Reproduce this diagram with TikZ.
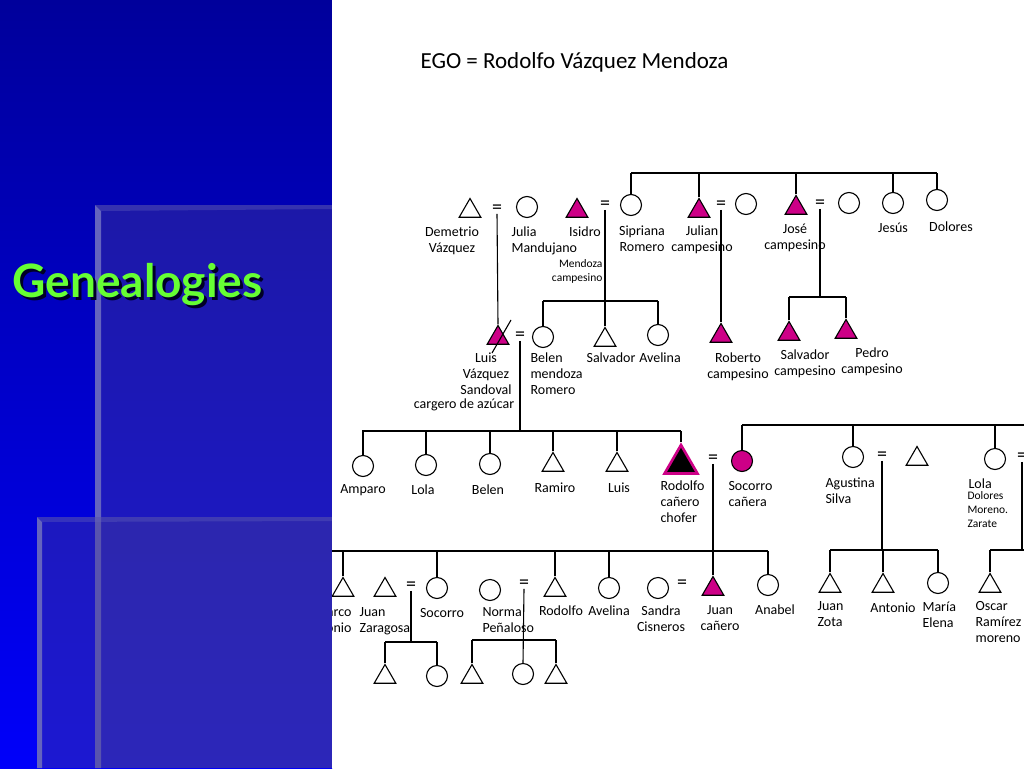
\documentclass[tikz,border=0pt]{standalone}
\usepackage{fontspec}
\setmainfont{Carlito}
\newfontfamily\ttlfont{Lato}
\usetikzlibrary{shapes.geometric,positioning}
\definecolor{mgn}{RGB}{205,0,135}
\definecolor{ttlgreen}{RGB}{102,255,51}
\definecolor{pnltop}{RGB}{0,0,155}
\definecolor{pnlbot}{RGB}{0,0,250}
\definecolor{pnlover}{RGB}{70,60,150}
\definecolor{pnledge}{RGB}{100,100,190}
\newcommand{\shadowtext}[1]{\makebox[0pt][l]{\hspace{3pt}\raisebox{-3pt}{\color{black!85!blue}#1}}#1}
\tikzset{
  male/.style={draw, regular polygon, regular polygon sides=3, minimum size=25pt, inner sep=0pt, line width=1.1pt},
  female/.style={draw, circle, minimum size=21pt, inner sep=0pt, line width=1.1pt},
  kin/.style={fill=mgn},
  egosym/.style={male, minimum size=38pt, fill=black, draw=mgn, line width=2.6pt},
  eq/.style={font=\fontsize{20}{20}\selectfont, inner sep=0pt},
  lbl/.style={font=\fontsize{14}{16}\selectfont, inner sep=0pt, align=center},
  sml/.style={font=\fontsize{11.5}{14}\selectfont, inner sep=0pt},
  ttl/.style={font=\ttlfont\bfseries\fontsize{46}{46}\selectfont, inner sep=0pt, anchor=base west, text=ttlgreen},
  every edge/.style={draw, line width=1.1pt},
}
\begin{document}
\begin{tikzpicture}[x=1pt,y=-1pt,line width=1.1pt]
\useasboundingbox (0,0) rectangle (1024,768);
% left panel
\shade[top color=pnltop, bottom color=pnlbot] (0,0) rectangle (332,768);
\fill[pnlover, opacity=0.4] (95,205) rectangle (332,768);
\fill[pnledge] (95,205) -- (101,211) -- (101,768) -- (95,768) -- cycle;
\fill[pnledge, opacity=0.35] (95,205) -- (332,205) -- (332,209) -- (101,211) -- cycle;
\fill[pnlover, opacity=0.4] (37,517) rectangle (332,768);
\fill[pnledge] (37,517) -- (42,522) -- (42,768) -- (37,768) -- cycle;
\fill[pnledge, opacity=0.35] (37,517) -- (332,517) -- (332,521) -- (42,522) -- cycle;
\node[ttl] (ttl) at (12,297) {\shadowtext{Genealogies}};
% chart
\fill[white] (332,0) rectangle (1024,768);
\begin{scope}
\clip (332,0) rectangle (1024,768);
\node[font=\fontsize{23}{23}\selectfont, anchor=west, inner sep=0pt] (ego) at (420,62) {EGO = Rodolfo Vázquez Mendoza};

% generation 1
\node[male] (1a) at (470,211) {};
\node[eq] (q1a) at (497,209) {=};
\node[female] (1b) at (527,207) {};
\node[male,kin] (1c) at (577,211) {};
\node[eq] (q1b) at (605,205) {=};
\node[female] (1d) at (631,205) {};
\node[male,kin] (1e) at (699,211) {};
\node[eq] (q1c) at (721,205) {=};
\node[female] (1f) at (746,204) {};
\node[male,kin] (1g) at (796,208) {};
\node[eq] (q1d) at (820,204) {=};
\node[female] (1h) at (849,203) {};
\node[female] (1i) at (893,203) {};
\node[female] (1j) at (937,200) {};
\node[lbl] (l1a) at (452,241) {Demetrio\\Vázquez};
\node[lbl, align=left, anchor=west] (l1b) at (511,241) {Julia\\Mandujano};
\node[lbl] (l1c) at (585,232) {Isidro};
\node[sml, align=right, anchor=east] (l1c2) at (603,271) {Mendoza\\campesino};
\node[lbl] (l1d) at (642,239) {Sipriana\\Romero};
\node[lbl] (l1e) at (702,240) {Julian\\campesino};
\node[lbl] (l1g) at (795,238) {José\\campesino};
\node[lbl] (l1i) at (893,228) {Jesús};
\node[lbl] (l1j) at (951,227) {Dolores};
\coordinate (b1) at (631,173);
\coordinate (b1e) at (937,173);
\draw (b1) -- (b1e);
\path (1d.north) edge (1d |- b1)
      (1e.north) edge (1e |- b1)
      (1g.north) edge (1g |- b1)
      (1i.north) edge (1i |- b1)
      (1j.north) edge (1j |- b1);

% generation 2
\node[male,kin] (2a) at (498,338) {};
\draw ([shift={(13,-18)}]2a.center) -- ([shift={(-6,15)}]2a.center);
\node[eq] (q2a) at (520,336) {=};
\node[female] (2b) at (543,337) {};
\node[male] (2c) at (605,340) {};
\node[female] (2d) at (658,335) {};
\node[male,kin] (2e) at (721,336) {};
\node[male,kin] (2f) at (789,334) {};
\node[male,kin] (2g) at (846,332) {};
\node[lbl] (l2a) at (486,374) {Luis\\Vázquez\\Sandoval};
\node[lbl] (l2a2) at (464,405) {cargero de azúcar};
\node[lbl, align=left, anchor=west] (l2b) at (530,374) {Belen\\mendoza\\Romero};
\node[lbl] (l2c) at (611,358) {Salvador};
\node[lbl] (l2d) at (660,358) {Avelina};
\node[lbl] (l2e) at (738,367) {Roberto\\campesino};
\node[lbl] (l2f) at (805,364) {Salvador\\campesino};
\node[lbl] (l2g) at (872,362) {Pedro\\campesino};
\coordinate (b2) at (543,301);
\coordinate (b2e) at (658,301);
\coordinate (b3) at (789,297);
\coordinate (b3e) at (846,297);
\draw (b2) -- (b2e);
\draw (b3) -- (b3e);
\path (q1a.south) edge (2a.north)
      (q1b.south) edge (q1b |- b2)
      (q1c.south) edge (2e.north)
      (q1d.south) edge (q1d |- b3)
      (2b.north) edge (2b |- b2)
      (2c.north) edge (2c |- b2)
      (2d.north) edge (2d |- b2)
      (2f.north) edge (2f |- b3)
      (2g.north) edge (2g |- b3);

% generation 3
\node[female] (3a) at (363,466) {};
\node[female] (3b) at (426,465) {};
\node[female] (3c) at (490,464) {};
\node[male] (3d) at (553,465) {};
\node[male] (3e) at (617,465) {};
\node[egosym] (3f) at (681,464) {};
\node[eq] (q3a) at (713,459) {=};
\node[female,kin] (3g) at (742,461) {};
\node[female] (3h) at (853,457) {};
\node[eq] (q3b) at (882,456) {=};
\node[male] (3i) at (917,459) {};
\node[female] (3j) at (995,459) {};
\node[eq] (q3c) at (1022,457) {=};
\node[lbl] (l3a) at (363,490) {Amparo};
\node[lbl] (l3b) at (423,490) {Lola};
\node[lbl] (l3c) at (488,490) {Belen};
\node[lbl] (l3d) at (555,488) {Ramiro};
\node[lbl] (l3e) at (619,488) {Luis};
\node[lbl, align=left, anchor=west] (l3f) at (660,502) {Rodolfo\\cañero\\chofer};
\node[lbl, align=left, anchor=west] (l3g) at (728,494) {Socorro\\cañera};
\node[lbl, align=left, anchor=west] (l3h) at (825,491) {Agustina\\Silva};
\node[lbl, anchor=west] (l3j) at (968,484) {Lola};
\node[sml, align=left, anchor=north west] (l3j2) at (967,491) {Dolores\\Moreno.\\Zarate};
\coordinate (b4) at (362,431);
\coordinate (b4e) at (681,431);
\coordinate (b6) at (742,425);
\coordinate (b6e) at (1030,425);
\draw (b4) -- (b4e);
\draw (b6) -- (b6e);
\path (q2a.south) edge (q2a |- b4)
      (3a.north) edge (3a |- b4)
      (3b.north) edge (3b |- b4)
      (3c.north) edge (3c |- b4)
      (3d.north) edge (3d |- b4)
      (3e.north) edge (3e |- b4)
      (3f.north) edge (3f |- b4)
      (3g.north) edge (3g |- b6)
      (3h.north) edge (3h |- b6)
      (3j.north) edge (3j |- b6);

% generation 4
\node[male] (4a) at (343,590) {};
\node[male] (4b) at (385,590) {};
\node[eq] (q4a) at (411,586) {=};
\node[female] (4c) at (437,588) {};
\node[female] (4d) at (490,590) {};
\node[eq] (q4b) at (524,584) {=};
\node[male] (4e) at (555,590) {};
\node[female] (4f) at (609,588) {};
\node[female] (4g) at (658,588) {};
\node[eq] (q4c) at (682,584) {=};
\node[male,kin] (4h) at (713,589) {};
\node[female] (4i) at (768,585) {};
\node[male] (4j) at (830,586) {};
\node[male] (4k) at (883,586) {};
\node[female] (4l) at (938,583) {};
\node[male] (4m) at (990,586) {};
\node[lbl, align=right, anchor=east] (l4a) at (352,620) {Marco\\Antonio};
\node[lbl, align=left, anchor=west] (l4b) at (359,621) {Juan\\Zaragosa};
\node[lbl] (l4c) at (442,613) {Socorro};
\node[lbl, align=left, anchor=west] (l4d) at (482,620) {Norma\\Peñaloso};
\node[lbl] (l4e) at (561,611) {Rodolfo};
\node[lbl] (l4f) at (609,611) {Avelina};
\node[lbl] (l4g) at (661,619) {Sandra\\Cisneros};
\node[lbl] (l4h) at (720,618) {Juan\\cañero};
\node[lbl] (l4i) at (775,610) {Anabel};
\node[lbl, align=left, anchor=west] (l4j) at (817,614) {Juan\\Zota};
\node[lbl] (l4k) at (893,608) {Antonio};
\node[lbl, align=left, anchor=west] (l4l) at (922,615) {María\\Elena};
\node[lbl, align=left, anchor=west] (l4m) at (975,622) {Oscar\\Ramírez\\moreno};
\coordinate (b5) at (330,551);
\coordinate (b5e) at (768,551);
\coordinate (b7) at (830,550);
\coordinate (b7e) at (938,550);
\coordinate (b8) at (990,550);
\coordinate (b8e) at (1030,550);
\draw (b5) -- (b5e);
\draw (b7) -- (b7e);
\draw (b8) -- (b8e);
\path (q3a.south) edge (q3a |- b5)
      (q3b.south) edge (q3b |- b7)
      (q3c.south) edge (q3c |- b8)
      (4a.north) edge (4a |- b5)
      (4c.north) edge (4c |- b5)
      (4e.north) edge (4e |- b5)
      (4f.north) edge (4f |- b5)
      (4h.north) edge (4h |- b5)
      (4i.north) edge (4i |- b5)
      (4j.north) edge (4j |- b7)
      (4k.north) edge (4k |- b7)
      (4l.north) edge (4l |- b7)
      (4m.north) edge (4m |- b8);

% generation 5
\node[male] (5a) at (385,677) {};
\node[female] (5b) at (437,676) {};
\node[male] (5c) at (472,677) {};
\node[female] (5d) at (523,674) {};
\node[male] (5e) at (556,677) {};
\coordinate (b9) at (385,642);
\coordinate (b9e) at (437,642);
\coordinate (b10) at (472,640);
\coordinate (b10e) at (556,640);
\draw (b9) -- (b9e);
\draw (b10) -- (b10e);
\path (q4a.south) edge (q4a |- b9)
      (q4b.south) edge (5d.north)
      (5a.north) edge (5a |- b9)
      (5b.north) edge (5b |- b9)
      (5c.north) edge (5c |- b10)
      (5e.north) edge (5e |- b10);
\end{scope}
\end{tikzpicture}
\end{document}
